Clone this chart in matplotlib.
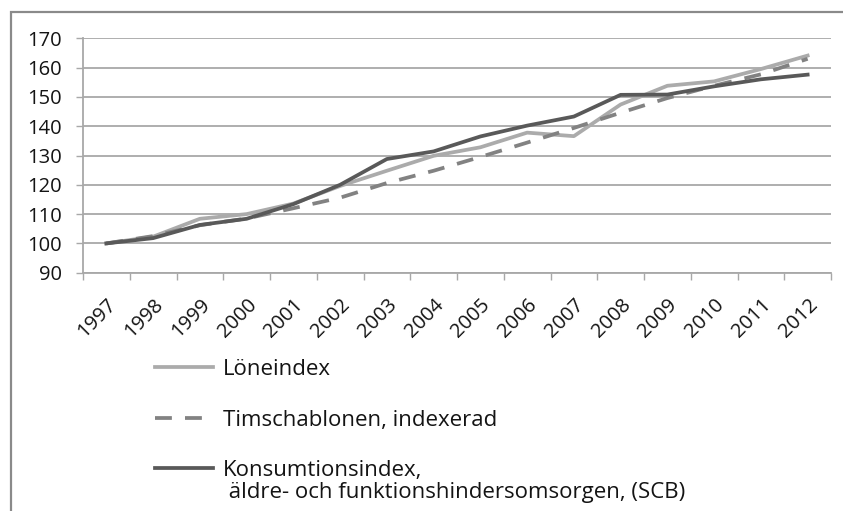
import matplotlib
matplotlib.use("Agg")
import matplotlib.pyplot as plt
from matplotlib.patches import Rectangle
from matplotlib.ticker import FixedLocator, MultipleLocator
import matplotlib.transforms as mtransforms

plt.rcParams["font.family"] = ["Open Sans", "DejaVu Sans"]

# data
years = ["1997", "1998", "1999", "2000", "2001", "2002", "2003", "2004",
         "2005", "2006", "2007", "2008", "2009", "2010", "2011", "2012"]
loneindex = [100, 102.3, 108.4, 110.0, 113.6, 119.6, 124.8, 129.9,
             132.8, 137.8, 136.6, 147.4, 153.8, 155.3, 159.5, 164.1]
timschablon = [100, 102.5, 106.2, 108.5, 112.0, 115.6, 120.6, 124.8,
               129.5, 134.4, 139.4, 144.6, 149.6, 153.8, 157.7, 163.0]
konsumtion = [100, 101.8, 106.3, 108.4, 113.4, 120.0, 128.8, 131.4,
              136.5, 140.2, 143.3, 150.7, 150.8, 153.6, 156.0, 157.6]

labels = ["Löneindex", "Timschablonen, indexerad", "Konsumtionsindex,"]
label_extra = " äldre- och funktionshindersomsorgen, (SCB)"

LIGHT = "#ABABAB"
MID = "#828282"
DARK = "#595959"
GRID = "#A8A8A8"
TEXT = "#141414"

W, H, DPI = 843, 511, 100
fig = plt.figure(figsize=(W / DPI, H / DPI), dpi=DPI)
ax = fig.add_axes([83 / W, 1 - 272.7 / H, (831 - 83) / W, (272.7 - 38.3) / H])

x = list(range(len(years)))
ax.plot(x, loneindex, color=LIGHT, linewidth=2.7, label=labels[0], zorder=3)
ax.plot(x, timschablon, color=MID, linewidth=2.7, linestyle=(0, (4.5, 3.5)),
        label=labels[1], zorder=4)
ax.plot(x, konsumtion, color=DARK, linewidth=2.7, label=labels[2], zorder=5)

# axes
ax.set_xlim(-0.5, len(years) - 0.5)
ax.set_ylim(90, 170)
ax.yaxis.set_major_locator(MultipleLocator(10))
ax.grid(axis="y", color=GRID, linewidth=1.3)
ax.set_axisbelow(True)
for s in ["top", "right"]:
    ax.spines[s].set_visible(False)
for s in ["left", "bottom"]:
    ax.spines[s].set_color(GRID)
    ax.spines[s].set_linewidth(1.3)

ax.tick_params(axis="y", direction="out", length=5, width=1.0, color=GRID,
               pad=10, labelsize=14.5, labelcolor=TEXT)
ax.set_xticks(x)
ax.set_xticklabels(years)
ax.xaxis.set_minor_locator(FixedLocator([i - 0.5 for i in range(len(years) + 1)]))
ax.tick_params(axis="x", which="major", length=0, pad=0, labelsize=14.5,
               labelcolor=TEXT)
ax.tick_params(axis="x", which="minor", direction="out", length=5, width=1.0,
               color=GRID)
shift = mtransforms.ScaledTranslation(7 / DPI, -29 / DPI, fig.dpi_scale_trans)
for lab in ax.get_xticklabels():
    lab.set_rotation(45)
    lab.set_ha("right")
    lab.set_va("center")
    lab.set_rotation_mode("anchor")
    lab.set_transform(lab.get_transform() + shift)

# legend below the plot
leg = fig.legend(loc="upper left", bbox_to_anchor=(155 / W, 1 - 359 / H),
                 frameon=False, fontsize=16, handlelength=2.6,
                 handletextpad=0.45, labelspacing=1.33, borderpad=0,
                 borderaxespad=0)
for t in leg.get_texts():
    t.set_color(TEXT)

fig.canvas.draw()
bb = leg.get_texts()[2].get_window_extent()
fig.text(bb.x0 / W, ((bb.y0 + bb.y1) / 2 - 22) / H, label_extra, fontsize=16,
         color=TEXT, ha="left", va="center")

# chart area border, cut off at right and bottom like the source
fig.patches.append(Rectangle((11 / W, -0.1), 1.2, 1 - 12 / H + 0.1,
                             transform=fig.transFigure, fill=False,
                             edgecolor="#8A8A8A", linewidth=1.6))

fig.savefig("out.png", dpi=DPI)
